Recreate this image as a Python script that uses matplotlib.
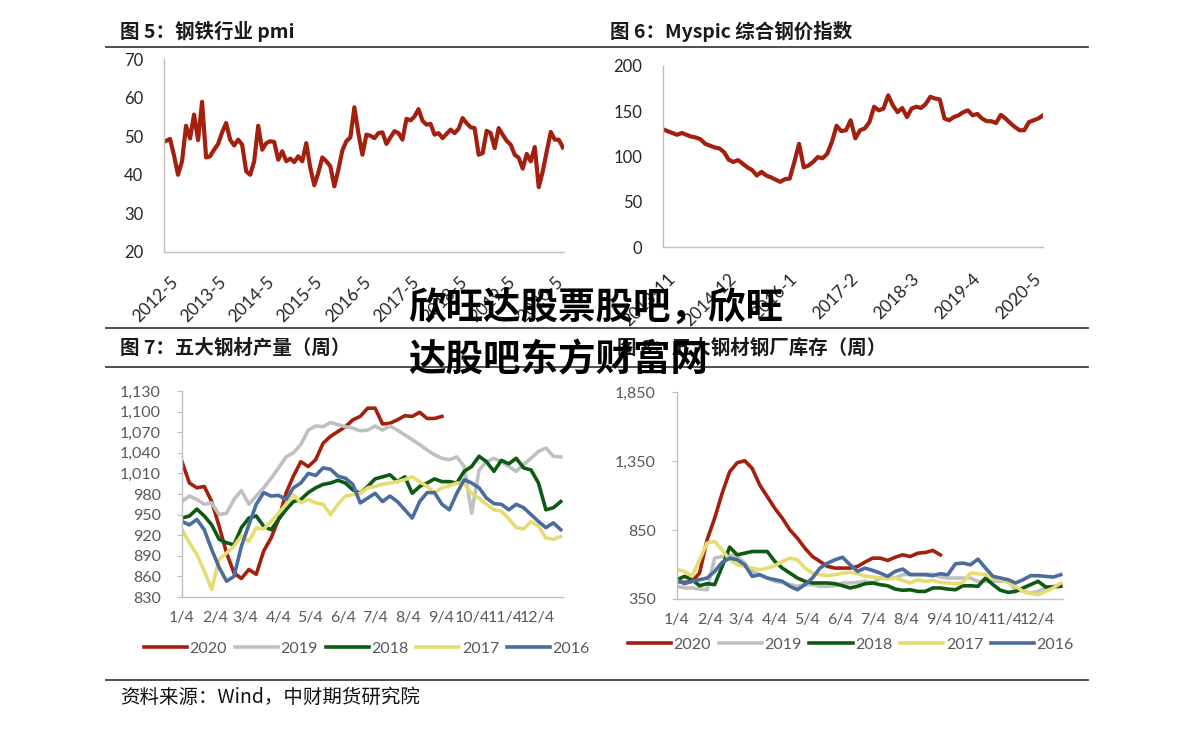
import numpy as np
import matplotlib.pyplot as plt
from matplotlib.lines import Line2D
from matplotlib.transforms import ScaledTranslation

# ---- data ----
# fig 5: steel PMI, monthly from 2012-5
pmi = [48.8, 49.3, 45.0, 40.0, 43.5, 52.7, 49.4, 55.6, 49.0, 58.9,
       44.5, 44.8, 46.5, 48.0, 51.0, 53.4, 49.1, 47.6, 49.1, 47.8,
       40.9, 40.0, 43.5, 52.7, 46.5, 48.2, 48.7, 48.5, 43.9, 46.1,
       43.5, 44.2, 43.3, 44.8, 43.5, 48.2, 41.8, 37.3, 40.5, 44.5,
       43.5, 42.2, 37.0, 41.3, 46.3, 48.7, 49.7, 57.5, 50.8, 45.2,
       50.4, 50.1, 49.5, 50.8, 51.0, 48.0, 49.7, 51.3, 50.8, 49.1,
       54.5, 54.1, 55.1, 57.0, 54.0, 53.0, 53.2, 50.4, 50.8, 49.5,
       50.6, 51.7, 50.8, 51.9, 54.7, 53.4, 52.3, 52.1, 45.2, 45.6,
       51.4, 50.8, 46.9, 52.1, 50.4, 48.8, 47.8, 45.2, 44.4, 41.6,
       45.4, 43.5, 47.2, 36.8, 40.9, 46.1, 51.1, 49.1, 49.1, 47.1]
pmi_ticks = [0, 12, 24, 36, 48, 60, 72, 84, 96]
pmi_labels = ['2012-5', '2013-5', '2014-5', '2015-5', '2016-5',
              '2017-5', '2018-5', '2019-5', '2020-5']

# fig 6: Myspic index, monthly from 2013-11
myspic = [130, 128, 126, 124, 126, 124, 122, 121, 119, 114,
          112, 110, 109, 105, 96.5, 94, 96, 92, 88, 85,
          79, 83, 79, 77, 74.4, 72, 75, 75.5, 94, 114,
          88, 90, 94, 99.4, 98, 103, 116, 134, 128, 129,
          140, 120, 129, 131, 138, 155, 151, 153, 167.6, 156.5,
          149, 153.6, 143.6, 153, 155, 153.6, 158, 166, 164, 163,
          142, 140, 143.6, 145.5, 149, 151, 145.5, 147, 142, 139,
          139, 137, 146, 142, 137, 132.6, 129, 129, 138, 140,
          142, 145.5]
my_ticks = [0, 13, 26, 39, 52, 65, 78]
my_labels = ['2013-11', '2014-12', '2016-1', '2017-2', '2018-3', '2019-4', '2020-5']

# weekly charts: day offsets of the tick dates from 1/4
tick_days = [0, 31, 60, 91, 121, 152, 182, 213, 244, 274, 305, 335]
tick_names = ['1/4', '2/4', '3/4', '4/4', '5/4', '6/4', '7/4', '8/4',
              '9/4', '10/4', '11/4', '12/4']
years = ['2020', '2019', '2018', '2017', '2016']
colors = ['#A3200F', '#C0C0C0', '#0E5A12', '#E6DD72', '#4B6C9E']

# fig 7: output of five major steel products (weekly)
prod = {
    '2020': [1027, 996, 989, 991, 969, 933, 894, 865, 857, 870, 863, 897, 916, 943,
             981, 1006, 1027, 1020, 1030, 1054, 1064, 1071, 1078, 1088, 1093, 1105,
             1105, 1082, 1083, 1088, 1094, 1093, 1099, 1090, 1090, 1093],
    '2019': [969, 977, 972, 965, 967, 950, 952, 972, 985, 965,
             977, 989, 1003, 1018, 1034, 1040, 1052, 1073, 1079, 1078,
             1084, 1081, 1078, 1076, 1072, 1073, 1079, 1073, 1079, 1073,
             1066, 1059, 1052, 1044, 1037, 1032, 1030, 1034, 1020, 952,
             1015, 1027, 1032, 1027, 1020, 1013, 1023, 1032, 1042, 1047,
             1035, 1034],
    '2018': [945, 948, 958, 948, 935, 914, 909, 906, 931, 945,
             948, 933, 928, 943, 957, 969, 972, 982, 989, 994,
             996, 1000, 996, 986, 981, 991, 1002, 1005, 1008, 998,
             1005, 981, 991, 996, 1002, 998, 998, 996, 1013, 1020,
             1035, 1027, 1013, 1029, 1024, 1032, 1018, 1015, 996, 957,
             960, 969],
    '2017': [928, 909, 892, 868, 841, 885, 894, 904, 919, 911,
             931, 929, 940, 952, 965, 979, 967, 972, 967, 965,
             950, 965, 977, 979, 981, 989, 991, 994, 996, 998,
             1001, 1005, 998, 991, 982, 989, 992, 996, 995, 981,
             974, 965, 957, 955, 944, 931, 929, 940, 933, 916,
             914, 918],
    '2016': [940, 935, 943, 928, 899, 873, 853, 860, 904, 935,
             965, 982, 977, 978, 972, 989, 996, 1010, 1007, 1018,
             1016, 1006, 1003, 994, 967, 974, 981, 969, 977, 969,
             957, 945, 969, 982, 982, 965, 957, 981, 1001, 996,
             989, 974, 966, 965, 957, 965, 960, 950, 940, 931,
             938, 928],
}

# fig 8: mill inventory of five major steel products (weekly)
stock = {
    '2020': [478, 470, 478, 538, 779, 935, 1116, 1272, 1337, 1352, 1296, 1176,
             1092, 1007, 935, 851, 791, 718, 658, 622, 586, 574, 574, 574,
             586, 618, 646, 646, 629, 653, 670, 658, 682, 687, 702, 670],
    '2019': [442, 430, 430, 422, 417, 646, 658, 670, 658, 610,
             550, 526, 502, 478, 470, 454, 442, 454, 454, 442,
             442, 446, 466, 466, 470, 478, 466, 502, 502, 502,
             526, 530, 530, 530, 530, 510, 502, 502, 502, 502,
             478, 478, 478, 478, 478, 417, 405, 393, 405, 430,
             442, 446],
    '2018': [490, 514, 490, 446, 461, 454, 586, 726, 670, 682,
             694, 694, 694, 622, 574, 538, 502, 478, 466, 466,
             466, 461, 446, 430, 442, 461, 466, 454, 446, 422,
             413, 417, 405, 405, 430, 430, 422, 417, 446, 446,
             442, 502, 454, 413, 398, 405, 430, 454, 478, 437,
             437, 442],
    '2017': [562, 550, 514, 634, 755, 767, 706, 634, 598, 586,
             574, 562, 574, 591, 622, 646, 634, 574, 538, 526,
             519, 526, 538, 543, 533, 516, 509, 502, 495, 502,
             485, 466, 490, 478, 485, 470, 466, 461, 470, 538,
             533, 526, 502, 490, 470, 442, 405, 389, 381, 405,
             430, 466],
    '2016': [485, 461, 478, 490, 502, 550, 615, 646, 634, 598,
             514, 526, 502, 490, 478, 442, 417, 454, 502, 574,
             610, 634, 653, 598, 550, 574, 557, 538, 514, 550,
             567, 526, 526, 526, 519, 533, 526, 605, 610, 598,
             639, 574, 514, 502, 490, 466, 490, 519, 519, 514,
             509, 526],
}

plt.rcParams['font.family'] = ['Lato', 'Noto Sans CJK SC', 'DejaVu Sans']
cjk = ['Noto Sans CJK SC', 'DejaVu Sans']

W, H = 1191, 730
fig = plt.figure(figsize=(W / 100, H / 100), dpi=100)


def box(x0, y0, x1, y1):
    return [x0 / W, 1 - y1 / H, (x1 - x0) / W, (y1 - y0) / H]


def clean(ax, tick_color):
    for s in ['top', 'right']:
        ax.spines[s].set_visible(False)
    for s in ['left', 'bottom']:
        ax.spines[s].set_color('#BFBFBF')
        ax.spines[s].set_linewidth(1.0)
    ax.tick_params(axis='x', length=0, colors=tick_color)
    ax.tick_params(axis='y', colors=tick_color)


shift = ScaledTranslation(0.10, 0, fig.dpi_scale_trans)

# ---- fig 5 ----
ax1 = fig.add_axes(box(164, 59, 564, 252))
ax1.plot(range(len(pmi)), pmi, color='#A3200F', lw=3.0, solid_joinstyle='round')
ax1.set_xlim(-0.5, 99.3)
ax1.set_ylim(20, 70)
ax1.set_yticks(range(20, 71, 10))
clean(ax1, '#262626')
ax1.tick_params(axis='y', length=0, pad=15, labelsize=12)
ax1.set_xticks(pmi_ticks)
ax1.set_xticklabels(pmi_labels, rotation=45, ha='right', va='center',
                    rotation_mode='anchor', fontsize=12.5)
ax1.tick_params(axis='x', pad=20)
for lb in ax1.get_xticklabels():
    lb.set_transform(lb.get_transform() + shift)

# ---- fig 6 ----
ax2 = fig.add_axes(box(663, 66, 1043, 247))
ax2.plot(range(len(myspic)), myspic, color='#A3200F', lw=3.0, solid_joinstyle='round')
ax2.set_xlim(0, 81)
ax2.set_ylim(0, 200)
ax2.set_yticks(range(0, 201, 50))
clean(ax2, '#262626')
ax2.tick_params(axis='y', length=0, pad=15, labelsize=12)
ax2.set_xticks(my_ticks)
ax2.set_xticklabels(my_labels, rotation=45, ha='right', va='center',
                    rotation_mode='anchor', fontsize=12.5)
ax2.tick_params(axis='x', pad=21)
for lb in ax2.get_xticklabels():
    lb.set_transform(lb.get_transform() + shift)


# ---- weekly charts ----
def weekly(ax, data, ylo, yhi, ystep, legx, legy):
    for yr, c in zip(years, colors):
        vals = data[yr]
        ax.plot(np.arange(len(vals)), vals, color=c, lw=2.6, label=yr,
                solid_joinstyle='round')
    ax.set_xlim(0, 51.3)
    ax.set_ylim(ylo, yhi)
    yt = list(range(ylo, yhi + 1, ystep))
    ax.set_yticks(yt)
    ax.set_yticklabels([f'{v:,}' for v in yt], fontsize=11.5)
    clean(ax, '#595959')
    ax.tick_params(axis='y', length=3.6, color='#BFBFBF', pad=11.5)
    ax.set_xticks([d / 7 for d in tick_days])
    ax.set_xticklabels(tick_names, fontsize=11.5)
    ax.tick_params(axis='x', pad=10)
    leg = ax.legend(ncol=5, loc='center', bbox_to_anchor=(legx, legy),
                    frameon=False, fontsize=11.5, handlelength=2.7,
                    handletextpad=0.15, columnspacing=0.5)
    for t in leg.get_texts():
        t.set_color('#595959')


ax3 = fig.add_axes(box(182, 391, 563, 597))
weekly(ax3, prod, 830, 1130, 30, 0.485, -0.25)

ax4 = fig.add_axes(box(677, 392, 1063, 599))
weekly(ax4, stock, 350, 1850, 500, 0.45, -0.22)

# ---- titles, rules, source ----
title_kw = dict(fontsize=14, fontweight='bold', va='center', family=cjk, color='#1a1a1a')
fig.text(120 / W, 1 - 31 / H, '图 5：钢铁行业 pmi', **title_kw)
fig.text(610 / W, 1 - 31 / H, '图 6：Myspic 综合钢价指数', **title_kw)
fig.text(120 / W, 1 - 348 / H, '图 7：五大钢材产量（周）', **title_kw)
fig.text(617 / W, 1 - 348 / H, '图 8：五大钢材钢厂库存（周）', **title_kw)

for yy in [47, 328, 367, 680]:
    fig.add_artist(Line2D([106 / W, 1088 / W], [1 - yy / H, 1 - yy / H],
                          transform=fig.transFigure, color='#404040', lw=1.3))

fig.text(120 / W, 1 - 697 / H, '资料来源：Wind，中财期货研究院', fontsize=14,
         va='center', family=cjk, color='#111111')

# watermark on top
wm = dict(fontsize=27, fontweight='heavy', va='center', family=cjk,
          color='black', zorder=20)
fig.text(408 / W, 1 - 308 / H, '欣旺达股票股吧，欣旺', **wm)
fig.text(408 / W, 1 - 360 / H, '达股吧东方财富网', **wm)

fig.savefig('out.png', dpi=100)
